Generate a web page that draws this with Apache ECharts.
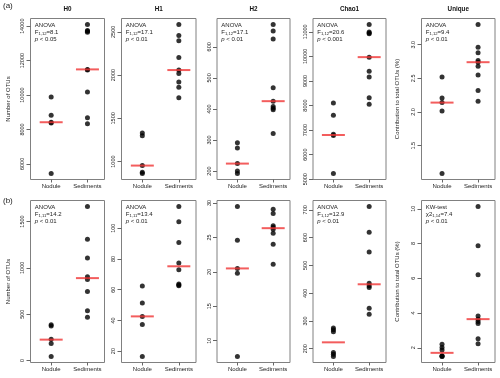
<!DOCTYPE html>
<html>
<head>
<meta charset="utf-8">
<script src="https://cdn.jsdelivr.net/npm/echarts@6/dist/echarts.min.js"></script>
<style>
  html, body { margin: 0; padding: 0; background: #fff; }
  #chart { width: 500px; height: 378px; }
</style>
</head>
<body>
<div id="chart"></div>
<script>
const categories = ['Nodule', 'Sediments'];
const panelTitles = ['H0', 'H1', 'H2', 'Chao1', 'Unique'];

// row (a)
const aH0Nodule = [9890, 8830, 8420, 8380, 5440];
const aH0Sed = [14100, 13750, 13700, 13650, 11490, 11450, 10180, 8680, 8330];
const aH0Median = [8420, 11490];
const aH0Ticks = [6000, 8000, 10000, 12000, 14000];

const aH1Nodule = [1330, 1300, 954, 877, 862];
const aH1Sed = [2585, 2458, 2396, 2204, 2058, 2019, 1919, 1858, 1738];
const aH1Median = [954, 2058];
const aH1Ticks = [1000, 1500, 2000, 2500];

const aH2Nodule = [291, 274, 224, 200, 192];
const aH2Sed = [672, 651, 625, 468, 425, 408, 402, 397, 321];
const aH2Median = [224, 425];
const aH2Ticks = [200, 300, 400, 500, 600];

const aChaoNodule = [8100, 7600, 6830, 6780, 5230];
const aChaoSed = [11300, 10990, 10950, 10920, 9970, 9390, 9160, 8320, 8050];
const aChaoMedian = [6800, 9970];
const aChaoTicks = [5000, 6000, 7000, 8000, 9000, 10000, 11000];

const aUniqNodule = [2.52, 2.21, 2.14, 2.015, 1.087];
const aUniqSed = [3.30, 2.96, 2.88, 2.765, 2.74, 2.68, 2.55, 2.32, 2.16];
const aUniqMedian = [2.14, 2.74];
const aUniqTicks = [1.5, 2.0, 2.5, 3.0];

// row (b)
const bH0Nodule = [387, 372, 228, 184, 43];
const bH0Sed = [1662, 1308, 1106, 903, 875, 745, 538, 466];
const bH0Median = [225, 889];
const bH0Ticks = [0, 500, 1000, 1500];

const bH1Nodule = [62.4, 51.3, 42.6, 37.4, 16.5];
const bH1Sed = [114.1, 104.1, 90.7, 77.4, 73.0, 63.7, 63.0, 62.5];
const bH1Median = [42.6, 75.2];
const bH1Ticks = [20, 40, 60, 80, 100];

const bH2Nodule = [29.5, 24.6, 20.5, 19.8, 7.7];
const bH2Sed = [29.1, 28.5, 26.7, 26.5, 26.2, 25.6, 24.0, 21.1];
const bH2Median = [20.5, 26.35];
const bH2Ticks = [10, 15, 20, 25, 30];

const bChaoNodule = [275, 268, 261, 186, 180, 172];
const bChaoSed = [712, 619, 548, 436, 427, 420, 346, 324];
const bChaoMedian = [223, 432];
const bChaoTicks = [200, 300, 400, 500, 600, 700];

const bUniqNodule = [2.2, 2.02, 1.87, 1.55, 1.52, 1.5];
const bUniqSed = [10.13, 7.87, 6.21, 3.83, 3.65, 3.52, 3.40, 2.52, 2.23];
const bUniqMedian = [1.71, 3.65];
const bUniqTicks = [2, 4, 6, 8, 10];

// test annotations, one per panel (null = none)
const statTest = ['ANOVA', 'ANOVA', 'ANOVA', 'ANOVA', 'ANOVA', 'ANOVA', 'ANOVA', null, 'ANOVA', 'KW-test'];
const statSym = ['F', 'F', 'F', 'F', 'F', 'F', 'F', null, 'F', 'χ2'];
const statDf = ['1,12', '1,12', '1,12', '1,12', '1,12', '1,11', '1,11', null, '1,12', '1,14'];
const statVal = ['8.1', '17.1', '17.1', '20.6', '9.4', '14.2', '13.4', null, '12.9', '7.4'];
const statP = ['0.05', '0.01', '0.01', '0.001', '0.01', '0.01', '0.01', null, '0.01', '0.01'];

const panels = [
  [aH0Nodule, aH0Sed, aH0Median, aH0Ticks, 0],
  [aH1Nodule, aH1Sed, aH1Median, aH1Ticks, 0],
  [aH2Nodule, aH2Sed, aH2Median, aH2Ticks, 0],
  [aChaoNodule, aChaoSed, aChaoMedian, aChaoTicks, 0],
  [aUniqNodule, aUniqSed, aUniqMedian, aUniqTicks, 1],
  [bH0Nodule, bH0Sed, bH0Median, bH0Ticks, 0],
  [bH1Nodule, bH1Sed, bH1Median, bH1Ticks, 0],
  [bH2Nodule, bH2Sed, bH2Median, bH2Ticks, 0],
  [bChaoNodule, bChaoSed, bChaoMedian, bChaoTicks, 0],
  [bUniqNodule, bUniqSed, bUniqMedian, bUniqTicks, 0]
];

const FONT = '"Liberation Sans", Arial, sans-serif';
const colLeft = [30.5, 121.5, 217, 313, 421.5];
const colWidth = [74, 74.5, 73, 73, 73.5];
const rowTop = [18.5, 200.5];
const rowHeight = [161, 162];

// R style range: data range padded by 4%
function yRange(vals) {
  const lo = Math.min(...vals), hi = Math.max(...vals);
  const pad = (hi - lo) * 0.04;
  return [lo - pad, hi + pad];
}

const grid = [], xAxis = [], yAxis = [], series = [], graphic = [];

panels.forEach(([nod, sed, med, ticks, digits], k) => {
  const r = Math.floor(k / 5), c = k % 5;
  const [lo, hi] = yRange(nod.concat(sed));

  grid.push({
    left: colLeft[c], top: rowTop[r], width: colWidth[c], height: rowHeight[r],
    show: true, borderColor: '#808080', borderWidth: 1, backgroundColor: 'transparent'
  });

  xAxis.push({
    gridIndex: k, type: 'value', min: 0.43, max: 2.47,
    axisLine: { show: false, onZero: false },
    splitLine: { show: false },
    axisTick: { show: true, length: 3, customValues: [1, 2], lineStyle: { color: '#666' } },
    axisLabel: {
      customValues: [1, 2], margin: 4, fontSize: 6, color: '#222', fontFamily: FONT,
      formatter: v => categories[Math.round(v) - 1]
    }
  });

  yAxis.push({
    gridIndex: k, type: 'value', min: lo, max: hi,
    axisLine: { show: false, onZero: false },
    splitLine: { show: false },
    axisTick: { show: true, length: 4, customValues: ticks, lineStyle: { color: '#666' } },
    axisLabel: {
      customValues: ticks, rotate: 90, margin: 5, fontSize: 5.5, color: '#222', fontFamily: FONT,
      formatter: v => v.toFixed(digits)
    },
    name: c === 0 ? 'Number of OTUs' : (c === 4 ? 'Contribution to total OTUs (%)' : ''),
    nameLocation: 'middle',
    nameGap: c === 0 ? 19 : 21.5,
    nameTextStyle: { fontSize: 6, color: '#222', fontFamily: FONT }
  });

  series.push({
    type: 'scatter', xAxisIndex: k, yAxisIndex: k, silent: true,
    symbolSize: 5, itemStyle: { color: '#000' },
    data: nod.map(v => [1, v]).concat(sed.map(v => [2, v]))
  });
  series.push({
    type: 'scatter', xAxisIndex: k, yAxisIndex: k, silent: true, z: 3,
    symbol: 'rect', symbolSize: [23, 2], itemStyle: { color: '#f03434' },
    data: med.map((m, i) => [i + 1, m])
  });

  if (statTest[k]) {
    graphic.push({
      type: 'text', x: colLeft[c] + 4.3, y: rowTop[r] + 3.3, z: 10,
      style: {
        text: statTest[k] + '\n{m|' + statSym[k] + '}{s|' + statDf[k] + '}{m|=' + statVal[k] + '}\n{i|p}{m| < ' + statP[k] + '}',
        fill: '#222', fontSize: 6, fontFamily: FONT, lineHeight: 7,
        rich: {
          m: { fontSize: 6, fontFamily: FONT, lineHeight: 7, verticalAlign: 'bottom' },
          s: { fontSize: 4.2, fontFamily: FONT, lineHeight: 4, verticalAlign: 'bottom' },
          i: { fontSize: 6, fontFamily: FONT, fontStyle: 'italic', lineHeight: 7, verticalAlign: 'bottom' }
        }
      }
    });
  }
});

panelTitles.forEach((t, c) => {
  graphic.push({
    type: 'text', x: colLeft[c] + colWidth[c] / 2, y: 9.5,
    style: { text: t, fill: '#111', font: 'bold 6.3px ' + FONT, textAlign: 'center', textVerticalAlign: 'middle' }
  });
});
['(a)', '(b)'].forEach((t, r) => {
  graphic.push({
    type: 'text', x: 3, y: r === 0 ? 5.5 : 200.5,
    style: { text: t, fill: '#222', font: '8px ' + FONT, textAlign: 'left', textVerticalAlign: 'middle' }
  });
});

const myChart = echarts.init(document.getElementById('chart'), null, { renderer: 'canvas' });
myChart.setOption({
  animation: false,
  backgroundColor: '#fff',
  grid, xAxis, yAxis, series, graphic
});
</script>
</body>
</html>
